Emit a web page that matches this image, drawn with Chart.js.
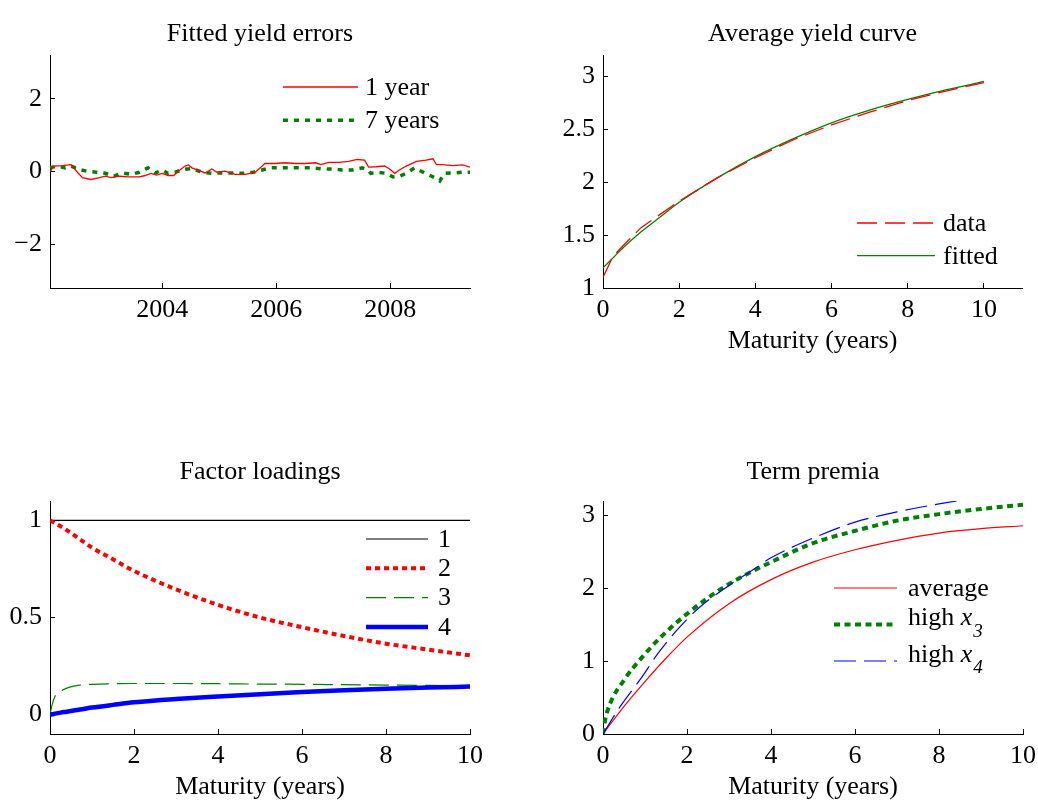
<!DOCTYPE html>
<html>
<head>
<meta charset="utf-8">
<script src="https://cdn.jsdelivr.net/npm/chart.js@4.4.0/dist/chart.umd.min.js"></script>
<style>
  body { margin: 0; background: #fff; overflow: hidden; }
  .panel { position: absolute; }
</style>
</head>
<body>
<div class="panel" style="left:0;top:0;width:519px;height:400px"><canvas id="errChart"></canvas></div>
<div class="panel" style="left:519px;top:0;width:519px;height:400px"><canvas id="curveChart"></canvas></div>
<div class="panel" style="left:0;top:400px;width:519px;height:401px"><canvas id="loadChart"></canvas></div>
<div class="panel" style="left:519px;top:400px;width:531px;height:401px"><canvas id="premChart"></canvas></div>
<script>
// ===== DATA =====
// fitted yield errors (percent), time in decimal years
const err1Time = [2002.03, 2002.1, 2002.25, 2002.4, 2002.5, 2002.6, 2002.75, 2002.9, 2003.0, 2003.1,
                  2003.25, 2003.4, 2003.6, 2003.7, 2003.8, 2003.9, 2004.0, 2004.1, 2004.2, 2004.28,
                  2004.4, 2004.46, 2004.52, 2004.63, 2004.75, 2004.87, 2004.96, 2005.1, 2005.28, 2005.46,
                  2005.63, 2005.72, 2005.8, 2005.99, 2006.16, 2006.34, 2006.51, 2006.69, 2006.78, 2006.92,
                  2007.1, 2007.27, 2007.42, 2007.55, 2007.62, 2007.75, 2007.9, 2007.99, 2008.08, 2008.16,
                  2008.28, 2008.46, 2008.63, 2008.75, 2008.81, 2008.92, 2009.1, 2009.27, 2009.4];
const err1Vals = [0.0, 0.15, 0.16, 0.19, 0.0, -0.17, -0.22, -0.17, -0.13, -0.17,
                  -0.13, -0.15, -0.15, -0.11, -0.05, -0.10, -0.05, -0.11, -0.11, 0.01,
                  0.15, 0.18, 0.10, 0.04, -0.04, 0.07, -0.02, 0.01, -0.08, -0.08,
                  -0.02, 0.10, 0.22, 0.22, 0.24, 0.22, 0.22, 0.24, 0.19, 0.25,
                  0.25, 0.28, 0.33, 0.31, 0.12, 0.13, 0.15, 0.07, -0.05, 0.04,
                  0.15, 0.28, 0.31, 0.35, 0.19, 0.19, 0.16, 0.18, 0.12];
const err7Time = [2002.03, 2002.15, 2002.3, 2002.4, 2002.55, 2002.7, 2002.85, 2003.0, 2003.15, 2003.3,
                  2003.45, 2003.6, 2003.75, 2003.88, 2004.0, 2004.1, 2004.23, 2004.35, 2004.52, 2004.7,
                  2004.87, 2005.05, 2005.22, 2005.42, 2005.6, 2005.75, 2005.9, 2006.1, 2006.28, 2006.46,
                  2006.63, 2006.8, 2007.0, 2007.16, 2007.33, 2007.51, 2007.6, 2007.66, 2007.81, 2007.93,
                  2008.05, 2008.16, 2008.28, 2008.43, 2008.54, 2008.66, 2008.78, 2008.87, 2008.95, 2009.1,
                  2009.27, 2009.4];
const err7Vals = [0.10, 0.15, 0.10, 0.15, 0.05, 0.0, -0.02, -0.05, -0.13, -0.04,
                  -0.08, -0.02, 0.10, -0.04, 0.04, -0.05, -0.02, 0.05, 0.08, -0.02,
                  -0.05, -0.04, -0.04, -0.05, -0.02, 0.04, 0.10, 0.10, 0.10, 0.10,
                  0.10, 0.07, 0.07, 0.04, 0.04, 0.10, 0.05, -0.05, -0.03, -0.05,
                  -0.15, -0.13, -0.05, 0.10, 0.01, -0.08, -0.17, -0.26, -0.05, -0.04,
                  -0.02, -0.02];
const errTicksX = [2004, 2006, 2008];
const errTicksY = [-2, 0, 2];

// average yield curve
const curveMat = [0, 0.25, 0.5, 1, 2, 3, 4, 5, 6, 7, 8, 9, 10];
const curveData = [1.10, 1.29, 1.39, 1.57, 1.82, 2.04, 2.23, 2.40, 2.54, 2.66, 2.77, 2.86, 2.94];
const fitMat = [0, 0.25, 0.5, 1, 1.5, 2, 3, 4, 5, 6, 7, 8, 9, 10];
const curveFit = [1.19, 1.28, 1.37, 1.53, 1.67, 1.81, 2.04, 2.24, 2.41, 2.56, 2.68, 2.78, 2.87, 2.95];
const curveTicksX = [0, 2, 4, 6, 8, 10];
const curveTicksY = [1, 1.5, 2, 2.5, 3];

// factor loadings
const loadMat = [0, 0.05, 0.12, 0.25, 0.4, 0.6, 0.8, 1, 1.5, 2, 3, 4, 5, 6, 7, 8, 9, 10];
const load1 = [1, 1, 1, 1, 1, 1, 1, 1, 1, 1, 1, 1, 1, 1, 1, 1, 1, 1];
const load2 = [1.0, 0.995, 0.985, 0.97, 0.95, 0.92, 0.89, 0.86, 0.80, 0.74, 0.645, 0.565, 0.50, 0.45, 0.405, 0.365, 0.335, 0.305];
const load3 = [0, 0.05, 0.094, 0.12, 0.136, 0.148, 0.153, 0.156, 0.159, 0.16, 0.16, 0.159, 0.157, 0.156, 0.154, 0.152, 0.15, 0.149];
const load4 = [0, 0.002, 0.005, 0.01, 0.015, 0.022, 0.029, 0.036, 0.05, 0.063, 0.080, 0.093, 0.105, 0.116, 0.125, 0.133, 0.139, 0.144];
const loadTicksX = [0, 2, 4, 6, 8, 10];
const loadTicksY = [0, 0.5, 1];

// term premia
const premAvgMat = [0, 0.5, 1, 1.5, 2, 3, 4, 5, 6, 7, 8, 9, 10];
const premAvg = [0, 0.38, 0.72, 1.04, 1.33, 1.79, 2.12, 2.36, 2.53, 2.66, 2.76, 2.82, 2.86];
const premX3Mat = [0, 0.05, 0.17, 0.5, 1, 1.5, 2, 2.5, 3, 4, 5, 6, 7, 8, 9, 10];
const premX3 = [0, 0.19, 0.42, 0.74, 1.10, 1.40, 1.65, 1.87, 2.06, 2.36, 2.62, 2.79, 2.93, 3.02, 3.09, 3.15];
const premX4Mat = [0, 0.4, 0.9, 1.3, 1.75, 2.3, 3, 3.66, 4, 5, 6, 7, 8, 9, 10];
const premX4 = [0, 0.37, 0.76, 1.10, 1.42, 1.74, 2.04, 2.29, 2.42, 2.69, 2.91, 3.05, 3.16, 3.25, 3.32];
const premTicksX = [0, 2, 4, 6, 8, 10];
const premTicksY = [0, 1, 2, 3];

// ===== STYLE =====
const FONT = "'Liberation Serif', 'Times New Roman', serif";
Chart.defaults.font.family = FONT;
Chart.defaults.font.size = 26;
Chart.defaults.color = '#000';
Chart.defaults.animation = false;

const pts = (xs, ys) => xs.map((x, i) => ({ x, y: ys[i] }));
const fmt = v => v < 0 ? '\u2212' + Math.abs(v) : String(v);

// legend drawn inside the axes, MATLAB style
const insideLegend = {
    id: 'insideLegend',
    afterDatasetsDraw(chart, args, opts) {
        const { ctx, chartArea } = chart;
        ctx.save();
        chart.data.datasets.forEach((ds, i) => {
            const y = chartArea.top + opts.y + i * opts.gap;
            const x0 = chartArea.left + opts.x;
            ctx.strokeStyle = ds.borderColor;
            ctx.lineWidth = ds.borderWidth;
            ctx.setLineDash(ds.borderDash || []);
            ctx.beginPath();
            ctx.moveTo(x0, y);
            ctx.lineTo(x0 + opts.len, y);
            ctx.stroke();
            ctx.setLineDash([]);

            let tx = x0 + opts.len + opts.textGap;
            ctx.fillStyle = '#000';
            ctx.textBaseline = 'middle';
            ctx.textAlign = 'left';
            const m = ds.label.match(/^(.*)x_(\d)$/);
            if (m) {
                const ty = y - 6;
                ctx.font = `26px ${FONT}`;
                ctx.fillText(m[1], tx, ty);
                tx += ctx.measureText(m[1]).width;
                ctx.font = `italic 26px ${FONT}`;
                ctx.fillText('x', tx, ty);
                tx += ctx.measureText('x').width;
                ctx.font = `italic 19px ${FONT}`;
                ctx.fillText(m[2], tx + 1, ty + 13);
            } else {
                ctx.font = `26px ${FONT}`;
                ctx.fillText(ds.label, tx, y + 1);
            }
        });
        ctx.restore();
    }
};

function axis(min, max, ticks, size, isX, titleText) {
    const a = {
        type: 'linear',
        min, max,
        afterBuildTicks: s => { s.ticks = ticks.map(v => ({ value: v })); },
        afterFit: s => { if (isX) s.height = size; else s.width = size; },
        grid: { drawOnChartArea: false, drawTicks: true, tickLength: -5, color: '#000', lineWidth: 1 },
        border: { color: '#000', width: 1 },
        ticks: {
            color: '#000',
            font: { size: 26, lineHeight: 1 },
            padding: isX ? 14 : 13,
            maxRotation: 0,
            autoSkip: false,
            callback: v => fmt(v)
        }
    };
    if (titleText) {
        a.title = { display: true, text: titleText, color: '#000', font: { size: 26, lineHeight: 1 }, padding: 0 };
    }
    return a;
}

function options(title, titlePad, layoutPad, scales, legend) {
    return {
        responsive: true,
        maintainAspectRatio: false,
        animation: false,
        layout: { padding: layoutPad },
        elements: { point: { radius: 0 } },
        plugins: {
            legend: { display: false },
            tooltip: { enabled: false },
            title: {
                display: true,
                text: title,
                fullSize: false,
                color: '#000',
                font: { size: 26, weight: 'normal', lineHeight: 1 },
                padding: titlePad
            },
            insideLegend: legend
        },
        scales
    };
}

// ===== FITTED YIELD ERRORS =====
new Chart(document.getElementById('errChart'), {
    type: 'line',
    data: {
        datasets: [
            { label: '1 year', data: pts(err1Time, err1Vals), borderColor: '#ff0000', borderWidth: 1.3, tension: 0 },
            { label: '7 years', data: pts(err7Time, err7Vals), borderColor: '#008000', borderWidth: 3.5, borderDash: [5, 6], tension: 0 }
        ]
    },
    options: options('Fitted yield errors', { top: 21, bottom: 8 }, { left: 0, right: 49, top: 0, bottom: 46 }, {
        x: axis(2002.03, 2009.4, errTicksX, 66, true),
        y: axis(-3.2, 3.2, errTicksY, 50, false)
    }, { x: 233, y: 32, gap: 33.3, len: 75, textGap: 7 }),
    plugins: [insideLegend]
});

// ===== AVERAGE YIELD CURVE =====
new Chart(document.getElementById('curveChart'), {
    type: 'line',
    data: {
        datasets: [
            { label: 'data', data: pts(curveMat, curveData), borderColor: '#ff0000', borderWidth: 1.3, borderDash: [20, 8], tension: 0 },
            { label: 'fitted', data: pts(fitMat, curveFit), borderColor: '#008000', borderWidth: 1.3, cubicInterpolationMode: 'monotone' }
        ]
    },
    options: options('Average yield curve', { top: 21, bottom: 8 }, { left: 0, right: 16, top: 0, bottom: 46 }, {
        x: axis(0, 11, curveTicksX, 66, true, 'Maturity (years)'),
        y: axis(1, 3.2, curveTicksY, 84, false)
    }, { x: 254, y: 168, gap: 32.7, len: 78, textGap: 8 }),
    plugins: [insideLegend]
});

// ===== FACTOR LOADINGS =====
new Chart(document.getElementById('loadChart'), {
    type: 'line',
    data: {
        datasets: [
            { label: '1', data: pts(loadMat, load1), borderColor: '#000000', borderWidth: 1.2, order: 0 },
            { label: '2', data: pts(loadMat, load2), borderColor: '#ff0000', borderWidth: 4, borderDash: [5, 4], cubicInterpolationMode: 'monotone', order: -1 },
            { label: '3', data: pts(loadMat, load3), borderColor: '#008000', borderWidth: 1.2, borderDash: [20, 8], cubicInterpolationMode: 'monotone', order: -2 },
            { label: '4', data: pts(loadMat, load4), borderColor: '#0000ff', borderWidth: 4.5, cubicInterpolationMode: 'monotone', order: -3 }
        ]
    },
    options: options('Factor loadings', { top: 59, bottom: 16 }, { left: 0, right: 49, top: 0, bottom: 1 }, {
        x: axis(0, 10, loadTicksX, 66, true, 'Maturity (years)'),
        y: axis(-0.1, 1.1, loadTicksY, 50, false)
    }, { x: 316, y: 38, gap: 29.3, len: 62, textGap: 10 }),
    plugins: [insideLegend]
});

// ===== TERM PREMIA =====
// panel is wider than the window so the "10" label room does not shrink the axes
new Chart(document.getElementById('premChart'), {
    type: 'line',
    data: {
        datasets: [
            { label: 'average', data: pts(premAvgMat, premAvg), borderColor: '#ff0000', borderWidth: 1.2, cubicInterpolationMode: 'monotone', order: 0 },
            { label: 'high x_3', data: pts(premX3Mat, premX3), borderColor: '#008000', borderWidth: 4, borderDash: [6, 4.5], cubicInterpolationMode: 'monotone', order: -1 },
            { label: 'high x_4', data: pts(premX4Mat, premX4), borderColor: '#0000ff', borderWidth: 1.2, borderDash: [22, 8], cubicInterpolationMode: 'monotone', order: -2 }
        ]
    },
    options: options('Term premia', { top: 59, bottom: 16 }, { left: 0, right: 0, top: 0, bottom: 1 }, {
        x: axis(0, 10, premTicksX, 66, true, 'Maturity (years)'),
        y: axis(0, 3.2, premTicksY, 84, false)
    }, { x: 231, y: 87, gap: 36.5, len: 63, textGap: 11 }),
    plugins: [insideLegend]
});
</script>
</body>
</html>
